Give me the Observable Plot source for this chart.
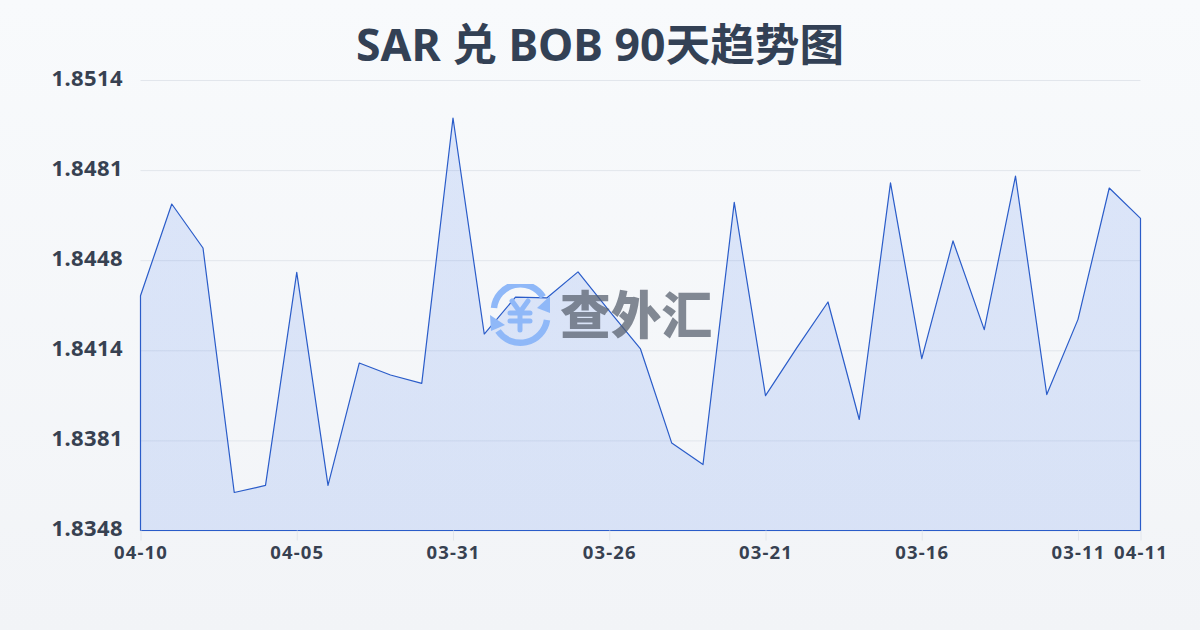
<!DOCTYPE html>
<html><head><meta charset="utf-8">
<script src="https://cdn.jsdelivr.net/npm/d3@7"></script>
<script src="https://cdn.jsdelivr.net/npm/@observablehq/plot@0.6"></script>
<style>
html,body{margin:0;padding:0}
body{width:1200px;height:630px;overflow:hidden;position:relative;background:linear-gradient(180deg,#f8fafc 0%,#f2f4f7 100%);font-family:"Noto Sans","Noto Sans CJK SC",sans-serif}
h1{margin:0;height:70px;line-height:88px;text-align:center;font-size:44.6px;font-weight:700;color:#334155;font-family:"Noto Sans","Noto Sans CJK SC",sans-serif}
#chart svg{display:block;background:transparent}
#wm{position:absolute;left:490px;top:284px;width:230px;height:64px;pointer-events:none}
.xa text{letter-spacing:1.2px;font-size:18.5px}
.ya text{letter-spacing:.4px}
</style></head><body>
<h1>SAR 兑 BOB 90天趋势图</h1>
<div id="chart"></div>
<svg id="wm" viewBox="0 0 230 64">
  <g fill="none" stroke="#8fb8f8" stroke-width="6.5">
    <path d="M4 24 A26.5 26.5 0 0 1 53 13"/>
    <path d="M57 36 A27 27 0 0 1 8 47"/>
  </g>
  <path d="M47 24 L60 12 L60 29 Z" fill="#8fb8f8"/>
  <path d="M0 31 L15 41 L1 47 Z" fill="#8fb8f8"/>
  <path d="M22 17 L30 28 L38 17 M20 29 H40 M20 37 H40 M30 28 V46" fill="none" stroke="#8fb8f8" stroke-width="5" stroke-linecap="round" stroke-linejoin="round"/>
  <text x="70" y="50" font-size="50.7" font-family="'Noto Sans CJK SC'" font-weight="900" fill="#555d6b" fill-opacity="0.72">查外汇</text>
</svg>
<script>
const dates = ["04-10","04-09","04-08","04-07","04-06","04-05","04-04","04-03","04-02","04-01","03-31","03-30","03-29","03-28","03-27","03-26","03-25","03-24","03-23","03-22","03-21","03-20","03-19","03-18","03-17","03-16","03-15","03-14","03-13","03-12","03-11","03-10","04-11"];
const rates = [1.84345,1.84683,1.84521,1.83620,1.83646,1.84431,1.83646,1.84097,1.84053,1.84022,1.85000,1.84204,1.84340,1.84337,1.84433,1.84289,1.84149,1.83802,1.83723,1.84689,1.83977,1.84153,1.84322,1.83889,1.84761,1.84113,1.84547,1.84220,1.84786,1.83981,1.84258,1.84742,1.84630];
const yTicks = [1.8348,1.83812,1.84144,1.84476,1.84808,1.8514];
const xTickIdx = [0,5,10,15,20,25,30,32];
const rows = dates.map((d,i)=>({i,d,v:rates[i]}));
const defs = () => {
  const d = d3.create("svg:defs");
  const g = d.append("linearGradient").attr("id","areaFill").attr("x1",0).attr("x2",0).attr("y1",0).attr("y2",1);
  g.append("stop").attr("offset","0%").attr("stop-color","#2563eb").attr("stop-opacity",0.13);
  g.append("stop").attr("offset","100%").attr("stop-color","#2563eb").attr("stop-opacity",0.13);
  return d.node();
};
const plot = Plot.plot({
  width:1200,height:560,
  marginLeft:140.5,marginRight:59.5,marginTop:10,marginBottom:99.5,
  style:{background:"transparent",fontFamily:'"Noto Sans","Noto Sans CJK SC",sans-serif'},
  x:{type:"linear",domain:[0,32],axis:null},
  y:{domain:[1.8348,1.8514],axis:null},
  marks:[
    defs,
    Plot.ruleY(yTicks,{stroke:"#e2e6ec",strokeWidth:1}),
    Plot.areaY(rows,{x:"i",y1:1.8348,y2:"v",fill:"url(#areaFill)",stroke:"#2a5cc9",strokeWidth:1.2,curve:"linear"}),
    Plot.axisX({ticks:xTickIdx,label:null,className:"xa",tickFormat:i=>dates[i],tickSize:10,tickPadding:5,stroke:"#e2e6ec",fill:"#374151",fontSize:18.5,fontWeight:700}),
    Plot.axisY({ticks:yTicks,label:null,className:"ya",tickFormat:v=>v.toFixed(4),tickSize:0,tickPadding:18,dy:-2,fill:"#374151",fontSize:22,fontWeight:700})
  ]
});
document.getElementById("chart").append(plot);
</script>
</body></html>
